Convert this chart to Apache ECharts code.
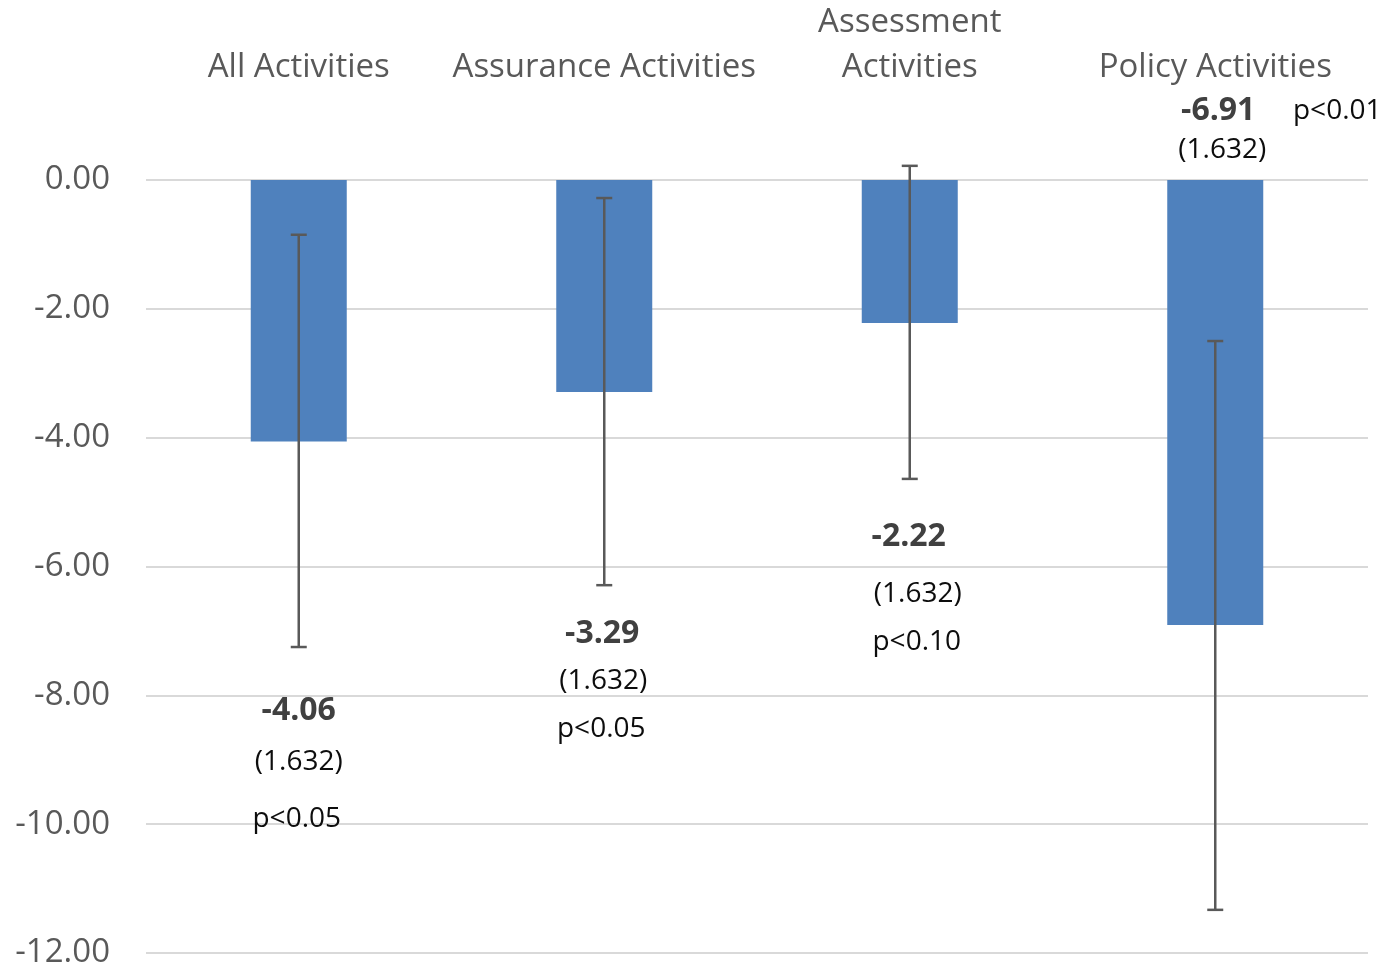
<!DOCTYPE html>
<html>
<head>
<meta charset="utf-8">
<script src="https://cdn.jsdelivr.net/npm/echarts@6/dist/echarts.min.js"></script>
<style>
  html, body { margin: 0; padding: 0; background: #ffffff; }
  #chart { width: 1387px; height: 970px; }
</style>
</head>
<body>
<div id="chart"></div>
<script>
// Estimated effects with 95% confidence intervals
const categories = ['All Activities', 'Assurance Activities', 'Assessment\nActivities', 'Policy Activities'];
const estimates = [-4.06, -3.29, -2.22, -6.91];
const ciLower = [-7.25, -6.29, -4.64, -11.33];
const ciUpper = [-0.85, -0.28, 0.22, -2.50];
const stdErrors = ['(1.632)', '(1.632)', '(1.632)', '(1.632)'];
const pValues = ['p<0.05', 'p<0.05', 'p<0.10', 'p<0.01'];
const yTicks = { min: -12, max: 0, interval: 2 };

// Where each annotation block sits (value of its first line) and how its lines are offset in pixels
const noteAnchor = [-8.24, -7.05, -5.54, 1.07];
const noteLayout = [
  { est: [0, 0], se: [0, 51], p: [-2, 108] },
  { est: [-2, 0], se: [-1, 47], p: [-3, 95] },
  { est: [-1, 0], se: [8, 57], p: [7, 105] },
  { est: [3, 0], se: [7, 39], p: [122, 0] }
];

const FONT = '"Open Sans", "DejaVu Sans", sans-serif';

const chart = echarts.init(document.getElementById('chart'));

chart.setOption({
  backgroundColor: '#ffffff',
  animation: false,
  grid: { left: 146, right: 19, top: 177, height: 776, containLabel: false },
  xAxis: {
    type: 'category',
    data: categories,
    position: 'top',
    axisLine: { show: false },
    axisTick: { show: false },
    axisLabel: {
      interval: 0,
      margin: 90,
      color: '#595959',
      fontFamily: FONT,
      fontSize: 33,
      lineHeight: 45
    }
  },
  yAxis: {
    type: 'value',
    min: yTicks.min,
    max: yTicks.max,
    interval: yTicks.interval,
    axisLine: { show: false },
    axisTick: { show: false },
    axisLabel: {
      margin: 36,
      color: '#595959',
      fontFamily: FONT,
      fontSize: 33,
      formatter: v => v.toFixed(2)
    },
    splitLine: { lineStyle: { color: '#d9d9d9', width: 2 } }
  },
  series: [
    {
      type: 'bar',
      data: estimates,
      barWidth: 96,
      itemStyle: { color: '#4f81bd' }
    },
    {
      // confidence interval whiskers
      type: 'custom',
      data: categories.map((c, i) => [i, ciLower[i], ciUpper[i]]),
      encode: { x: 0, y: [1, 2] },
      z: 5,
      renderItem: function (params, api) {
        const lo = api.coord([api.value(0), api.value(1)]);
        const hi = api.coord([api.value(0), api.value(2)]);
        const cap = 8;
        const style = { stroke: '#595959', lineWidth: 2.5 };
        return {
          type: 'group',
          children: [
            { type: 'line', shape: { x1: lo[0], y1: lo[1], x2: hi[0], y2: hi[1] }, style },
            { type: 'line', shape: { x1: lo[0] - cap, y1: lo[1], x2: lo[0] + cap, y2: lo[1] }, style },
            { type: 'line', shape: { x1: hi[0] - cap, y1: hi[1], x2: hi[0] + cap, y2: hi[1] }, style }
          ]
        };
      }
    },
    {
      // estimate, standard error and significance notes
      type: 'custom',
      data: categories.map((c, i) => [i, noteAnchor[i]]),
      encode: { x: 0, y: 1 },
      z: 6,
      renderItem: function (params, api) {
        const i = params.dataIndex;
        const p = api.coord([api.value(0), api.value(1)]);
        const L = noteLayout[i];
        const txt = (s, off, bold) => ({
          type: 'text',
          x: p[0] + off[0],
          y: p[1] + off[1],
          style: {
            text: s,
            align: 'center',
            verticalAlign: 'middle',
            fontFamily: FONT,
            fontSize: bold ? 32 : 28,
            fontWeight: bold ? 'bold' : 'normal',
            fill: bold ? '#404040' : '#0d0d0d'
          }
        });
        return {
          type: 'group',
          children: [
            txt(estimates[i].toFixed(2), L.est, true),
            txt(stdErrors[i], L.se, false),
            txt(pValues[i], L.p, false)
          ]
        };
      }
    }
  ]
});
</script>
</body>
</html>
